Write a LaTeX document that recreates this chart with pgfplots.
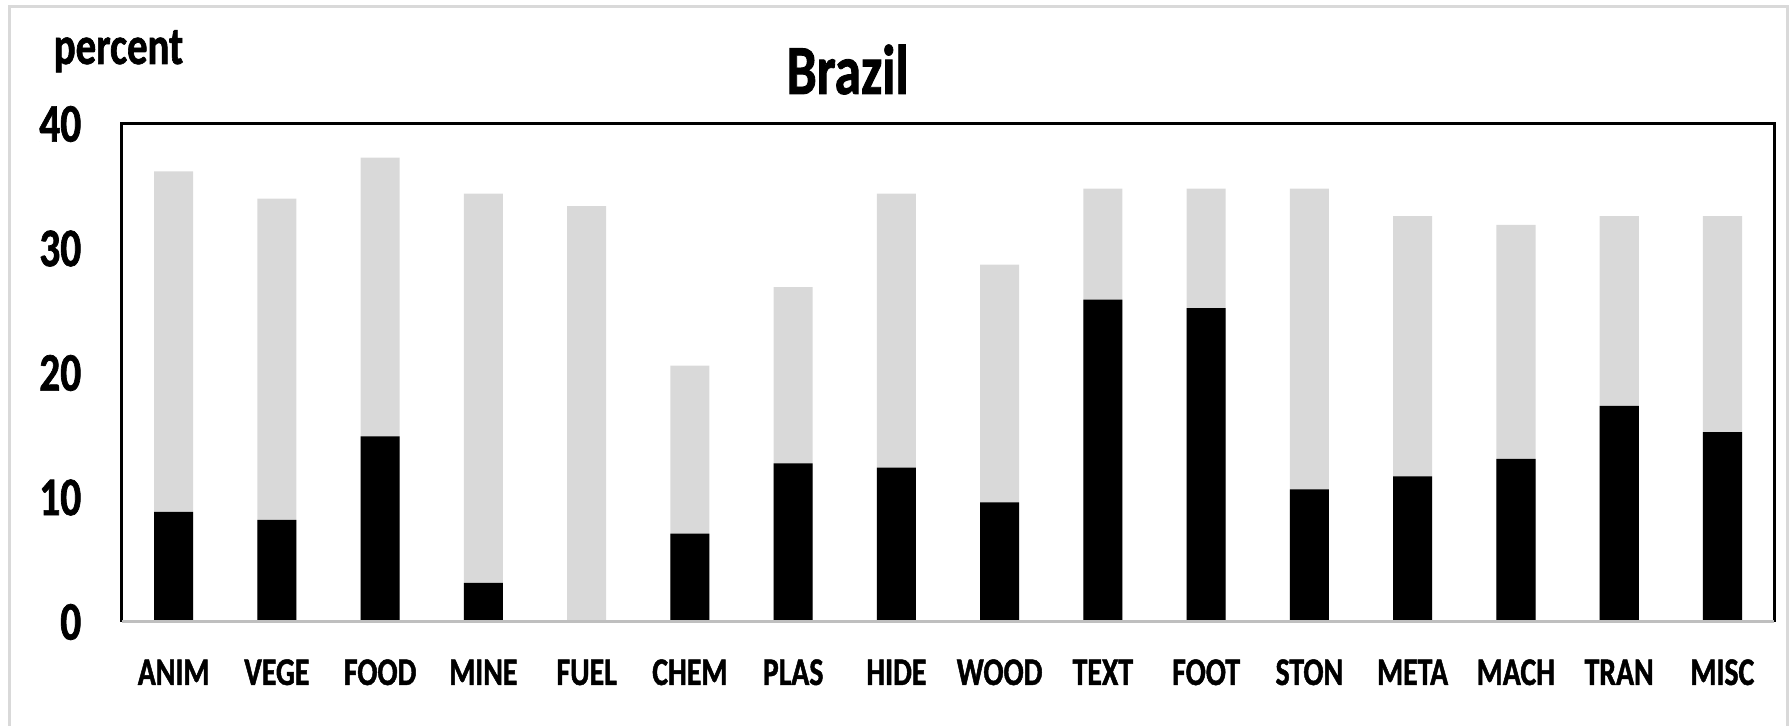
\documentclass[border=0pt]{standalone}
\usepackage{pgfplots}
\pgfplotsset{compat=1.18}
\usepackage{fontspec}
\setmainfont{Carlito}[FakeStretch=0.76, BoldFeatures={FakeBold=1.2}]

\definecolor{barlight}{RGB}{217,217,217}
\definecolor{framegray}{RGB}{217,217,217}
\definecolor{basegray}{RGB}{191,191,191}

\begin{document}
\begin{tikzpicture}
% page size
\path[use as bounding box] (-30.5pt,-26pt) rectangle (416.75pt,155.5pt);
% chart area border
\draw[line width=0.75pt, color=framegray] (-28.1pt,-40pt) rectangle (416.35pt,153.9pt);

\begin{axis}[
  at={(0,0)}, anchor=south west,
  scale only axis,
  width=413pt, height=124.5pt,
  xmin=-0.5, xmax=15.5,
  ymin=0, ymax=40,
  xtick={0,...,15},
  xticklabels={ANIM,VEGE,FOOD,MINE,FUEL,CHEM,PLAS,HIDE,WOOD,TEXT,FOOT,STON,META,MACH,TRAN,MISC},
  ytick={0,10,20,30,40},
  major tick length=0pt,
  /pgf/number format/assume math mode=true,
  axis line style={draw=none},
  xticklabel style={anchor=base, inner sep=0pt, yshift=-15.75pt,
    font=\fontsize{9.8}{9.8}\selectfont\bfseries},
  yticklabel style={anchor=east, inner sep=0pt, xshift=-10pt,
    font=\fontsize{13.6}{13.6}\selectfont\bfseries},
  ybar, bar width=0.38, bar shift=0pt,
  clip=false,
]
% total share
\addplot[fill=barlight, draw=none] coordinates {
  (0,36.2) (1,34.0) (2,37.3) (3,34.4) (4,33.4) (5,20.6) (6,26.9) (7,34.4)
  (8,28.7) (9,34.8) (10,34.8) (11,34.8) (12,32.6) (13,31.9) (14,32.6) (15,32.6)
};
% Brazil share
\addplot[fill=black, draw=none] coordinates {
  (0,8.85) (1,8.2) (2,14.9) (3,3.15) (4,0) (5,7.1) (6,12.75) (7,12.4)
  (8,9.6) (9,25.9) (10,25.2) (11,10.65) (12,11.7) (13,13.1) (14,17.35) (15,15.25)
};
% plot area frame
\draw[black, line width=0.75pt] (rel axis cs:0,0) -- (rel axis cs:0,1) -- (rel axis cs:1,1) -- (rel axis cs:1,0);
\draw[basegray, line width=0.75pt] (rel axis cs:0,0) -- (rel axis cs:1,0);
\end{axis}

\node[anchor=base, inner sep=0pt, font=\fontsize{17.6}{17.6}\selectfont\bfseries] at (181.4pt,132pt) {Brazil};
\node[anchor=base west, inner sep=0pt, font=\fontsize{13.4}{13.4}\selectfont\bfseries] at (-17.25pt,139.5pt) {percent};
\end{tikzpicture}
\end{document}
